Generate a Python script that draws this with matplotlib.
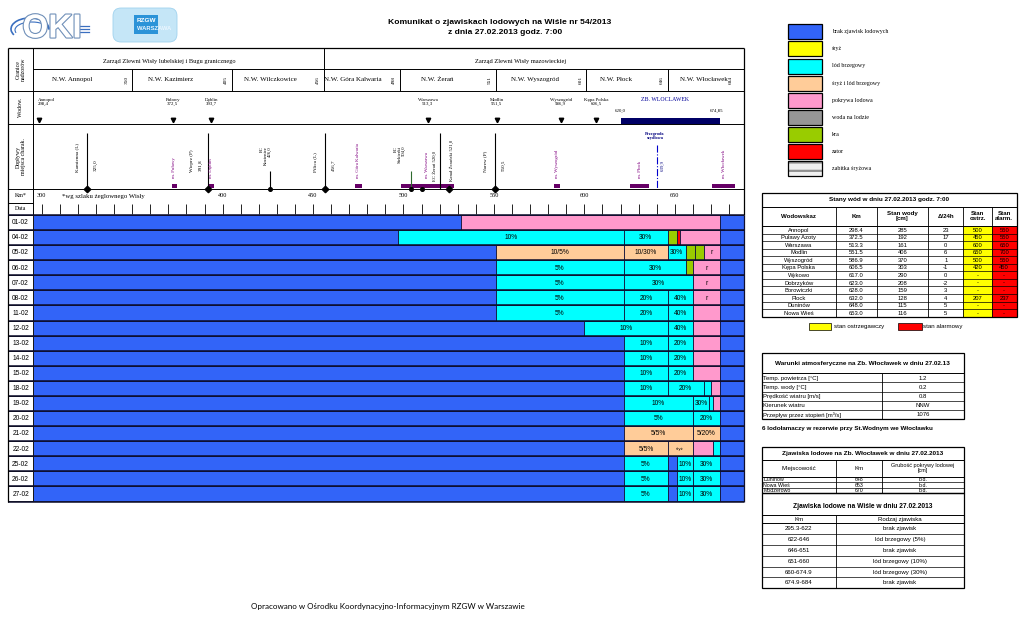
import numpy as np
import matplotlib
matplotlib.use("Agg")
import matplotlib.pyplot as plt
from matplotlib.patches import Rectangle, FancyBboxPatch, Arc
import matplotlib.patheffects as pe

plt.rcParams['font.family'] = ['Liberation Sans', 'DejaVu Sans']
plt.rcParams['hatch.linewidth'] = 1.6
SERIF = ['Liberation Serif', 'DejaVu Serif']

# ---------------- dane ----------------
KM_START = 295.3   # początek odcinka
KM_END = 688.0     # prawy brzeg rysunku

KINDS = ["brak", "sryz", "lod", "sryz_lod", "pokr", "woda", "kra", "zator", "zabitka"]
KIND_LABELS = ["brak zjawisk lodowych", "śryż", "lód brzegowy", "śryż i lód brzegowy",
               "pokrywa lodowa", "woda na lodzie", "kra", "zator", "zabitka śryżowa"]
KIND_COLORS = ["#3264f8", "#ffff00", "#00ffff", "#ffcc99", "#ff99cc",
               "#969696", "#99cc00", "#ff0000", "#d0d0d0"]
COLOR = dict(zip(KINDS, KIND_COLORS))

DATES = ["01-02", "04-02", "05-02", "06-02", "07-02", "08-02", "11-02", "12-02", "13-02",
         "14-02", "15-02", "18-02", "19-02", "20-02", "21-02", "22-02", "25-02", "26-02", "27-02"]

# (od km, do km, rodzaj, opis)
D01_02 = [(295.3, 532, "brak", ""), (532, 674.9, "pokr", ""), (674.9, KM_END, "brak", "")]
D04_02 = [(295.3, 497, "brak", ""), (497, 622, "lod", "10%"), (622, 646, "lod", "30%"),
          (646, 651, "kra", ""), (651, 653, "zator", ""), (653, 674.9, "pokr", ""),
          (674.9, KM_END, "brak", "")]
D05_02 = [(295.3, 551, "brak", ""), (551, 622, "sryz_lod", "10/5%"), (622, 646, "sryz_lod", "10/30%"),
          (646, 656, "lod", "30%"), (656, 661, "kra", ""), (661, 666, "kra", ""),
          (666, 674.9, "pokr", "r"), (674.9, KM_END, "brak", "")]
D06_02 = [(295.3, 551, "brak", ""), (551, 622, "lod", "5%"), (622, 656, "lod", "30%"),
          (656, 660, "kra", ""), (660, 674.9, "pokr", "r"), (674.9, KM_END, "brak", "")]
D07_02 = [(295.3, 551, "brak", ""), (551, 622, "lod", "5%"), (622, 660, "lod", "30%"),
          (660, 674.9, "pokr", "r"), (674.9, KM_END, "brak", "")]
D08_02 = [(295.3, 551, "brak", ""), (551, 622, "lod", "5%"), (622, 646, "lod", "20%"),
          (646, 660, "lod", "40%"), (660, 674.9, "pokr", "r"), (674.9, KM_END, "brak", "")]
D11_02 = [(295.3, 551, "brak", ""), (551, 622, "lod", "5%"), (622, 646, "lod", "20%"),
          (646, 660, "lod", "40%"), (660, 674.9, "pokr", ""), (674.9, KM_END, "brak", "")]
D12_02 = [(295.3, 600, "brak", ""), (600, 646, "lod", "10%"), (646, 660, "lod", "40%"),
          (660, 674.9, "pokr", ""), (674.9, KM_END, "brak", "")]
D13_02 = [(295.3, 622, "brak", ""), (622, 646, "lod", "10%"), (646, 660, "lod", "20%"),
          (660, 674.9, "pokr", ""), (674.9, KM_END, "brak", "")]
D14_02 = list(D13_02)
D15_02 = list(D13_02)
D18_02 = [(295.3, 622, "brak", ""), (622, 646, "lod", "10%"), (646, 666, "lod", "20%"),
          (666, 670, "lod", ""), (670, 674.9, "pokr", ""), (674.9, KM_END, "brak", "")]
D19_02 = [(295.3, 622, "brak", ""), (622, 660, "lod", "10%"), (660, 669, "lod", "30%"),
          (669, 671, "lod", ""), (671, 674.9, "pokr", ""), (674.9, KM_END, "brak", "")]
D20_02 = [(295.3, 622, "brak", ""), (622, 660, "lod", "5%"), (660, 674.9, "lod", "20%"),
          (674.9, KM_END, "brak", "")]
D21_02 = [(295.3, 622, "brak", ""), (622, 660, "sryz_lod", "5/5%"), (660, 674.9, "sryz_lod", "5/20%"),
          (674.9, KM_END, "brak", "")]
D22_02 = [(295.3, 622, "brak", ""), (622, 646, "sryz_lod", "5/5%"), (646, 660, "sryz_lod", "śryż"),
          (660, 671, "pokr", ""), (671, 674.9, "lod", ""), (674.9, KM_END, "brak", "")]
D25_02 = [(295.3, 622, "brak", ""), (622, 646, "lod", "5%"), (646, 651, "brak", ""),
          (651, 660, "lod", "10%"), (660, 674.9, "lod", "30%"), (674.9, KM_END, "brak", "")]
D26_02 = list(D25_02)
D27_02 = list(D25_02)
DAY_SEGMENTS = [D01_02, D04_02, D05_02, D06_02, D07_02, D08_02, D11_02, D12_02, D13_02,
                D14_02, D15_02, D18_02, D19_02, D20_02, D21_02, D22_02, D25_02, D26_02, D27_02]

# nagłówek schematu
ZARZAD_NAMES = ["Zarząd Zlewni Wisły lubelskiej i Bugu granicznego", "Zarząd Zlewni Wisły mazowieckiej"]
ZARZAD_END = [456, 684]
NW_NAMES = ["N.W. Annopol", "N.W. Kazimierz", "N.W. Wilczkowice", "N.W. Góra Kalwaria",
            "N.W. Żerań", "N.W. Wyszogród", "N.W. Płock", "N.W. Włocławek"]
NW_END = [350, 405, 456, 498, 551, 601, 646, 684]

WODOW_NAMES = ["Annopol", "Puławy", "Dęblin", "Warszawa", "Modlin", "Wyszogród", "Kępa Polska"]
WODOW_KM = [298.4, 372.5, 393.7, 513.3, 551.5, 586.9, 606.5]
ZB_FROM, ZB_TO = 620.0, 674.85

TRIB_NAMES = ["Kamienna (L)", "Wieprz (P)", "Pilica (L)", "Narew (P)"]
TRIB_KM = [325.0, 391.8, 456.7, 550.5]
EC_NAMES = ["EC\nKozienice\n426,0", "EC\nSiekierki\n504,0"]
EC_KM = [426.0, 504.0]
ZERAN_EC_KM = 520.0
ZERAN_KANAL_KM = 521.0
PRZEGRODA_KM = 639.9

CITY_NAMES = ["m. Puławy", "m. Dęblin", "m. Góra Kalwaria", "m. Warszawa", "m. Wyszogród",
              "m. Płock", "m. Włocławek"]
CITY_FROM = [372.0, 392.0, 473.0, 498.5, 583.0, 625.3, 670.8]
CITY_TO = [374.6, 395.3, 477.0, 528.0, 586.6, 636.0, 683.3]

KM_LABELS = [300, 400, 450, 500, 550, 600, 650]

# tabela stanów wód
GAUGES = ["Annopol", "Puławy Azoty", "Warszawa", "Modlin", "Wyszogród", "Kępa Polska",
          "Wykowo", "Dobrzyków", "Borowiczki", "Płock", "Duninów", "Nowa Wieś"]
GAUGE_KM = ["298.4", "372.5", "513.3", "551.5", "586.9", "606.5", "617.0", "623.0",
            "628.0", "632.0", "648.0", "653.0"]
LEVEL = [285, 192, 161, 406, 370, 303, 290, 208, 159, 128, 115, 116]
CHANGE = [23, 17, 0, 6, 1, -1, 0, -2, 3, 4, 5, 5]
WARN = ["500", "450", "600", "650", "500", "420", "-", "-", "-", "207", "-", "-"]
ALARM = ["550", "550", "650", "700", "550", "450", "-", "-", "-", "237", "-", "-"]

METEO_NAMES = ["Temp. powietrza [°C]", "Temp. wody [°C]", "Prędkość wiatru [m/s]",
               "Kierunek wiatru", "Przepływ przez stopień [m³/s]"]
METEO_VALUES = ["1.2", "0.2", "0.8", "NNW", "1076"]

ZB_PLACES = ["Duninów", "Nowa Wieś", "Modzerowo"]
ZB_PLACE_KM = ["648", "653", "670"]
ZB_THICK = ["b.d.", "b.d.", "b.d."]

RIVER_KM = ["295.3-622", "622-646", "646-651", "651-660", "660-674.9", "674.9-684"]
RIVER_KIND = ["brak zjawisk", "lód brzegowy (5%)", "brak zjawisk", "lód brzegowy (10%)",
              "lód brzegowy (30%)", "brak zjawisk"]

# ---------------- rysunek ----------------
W, H = 1023, 622
fig = plt.figure(figsize=(W / 100, H / 100), dpi=100)


def px_axes(x0, y0, x1, y1):
    ax = fig.add_axes([x0 / W, 1 - y1 / H, (x1 - x0) / W, (y1 - y0) / H])
    ax.axis('off')
    return ax


def hl(ax, y, x0, x1, lw=0.7, color='k'):
    ax.plot([x0, x1], [y, y], color=color, lw=lw, clip_on=False, solid_capstyle='butt')


def vl(ax, x, y0, y1, lw=0.7, color='k', ls='-'):
    ax.plot([x, x], [y0, y1], color=color, lw=lw, ls=ls, clip_on=False, solid_capstyle='butt')


canvas = px_axes(0, 0, W, H)
canvas.set_xlim(0, W)
canvas.set_ylim(H, 0)

# --- lewy panel: skala km ---
PX_PER_KM = 1.8087
P_LEFT, P_RIGHT = 8, 743.5
K0 = KM_END - (P_RIGHT - P_LEFT) / PX_PER_KM
LAB_X = (K0 + KM_START) / 2

ax_h = px_axes(P_LEFT, 47.7, P_RIGHT, 215)
ax_h.set_xlim(K0, KM_END)
ax_h.set_ylim(215, 47.7)

# linie tabeli nagłówka
hl(ax_h, 47.7, K0, KM_END, 0.9)
hl(ax_h, 69.3, KM_START, KM_END)
for y in [90.7, 124.3, 189, 215]:
    hl(ax_h, y, K0, KM_END)
hl(ax_h, 202.7, K0, KM_START)
vl(ax_h, K0, 47.7, 215, 0.9)
vl(ax_h, KM_START, 47.7, 215)
vl(ax_h, KM_END, 47.7, 215, 0.9)

# etykiety kolumny lewej
ax_h.text(LAB_X, 69.2, "Granice\nnadzorów", rotation=90, ha='center', va='center',
          fontsize=4.2, family=SERIF, linespacing=1.0)
ax_h.text(LAB_X, 107.5, "Wodow.", rotation=90, ha='center', va='center', fontsize=4.2, family=SERIF)
ax_h.text(LAB_X, 156.6, "Dopływy\nmiejsca charak.", rotation=90, ha='center', va='center',
          fontsize=4.2, family=SERIF, linespacing=1.0)
ax_h.text(LAB_X, 195.9, "Km*", ha='center', va='center', fontsize=4.3, family=SERIF)
ax_h.text(LAB_X, 208.9, "Data", ha='center', va='center', fontsize=4.3, family=SERIF)

# zarządy zlewni
start = KM_START
for name, end in zip(ZARZAD_NAMES, ZARZAD_END):
    ax_h.text((start + end) / 2 - 5, 62, name, ha='center', va='center', fontsize=4.6, family=SERIF)
    start = end
vl(ax_h, ZARZAD_END[0], 47.7, 69.3)

# nadzory wodne
NW_DX = [-6, -6, -4, -5, -6, -3, -6, 1]
start = KM_START
for name, end, dx in zip(NW_NAMES, NW_END, NW_DX):
    ax_h.text((start + end) / 2 + dx, 80, name, ha='center', va='center', fontsize=5.0, family=SERIF)
    ax_h.text(end - 3.2, 80, str(end), rotation=90, ha='center', va='center', fontsize=3.9, family=SERIF)
    if end != NW_END[-1]:
        vl(ax_h, end, 69.3, 90.7)
    start = end

# wodowskazy
for i, (name, km) in enumerate(zip(WODOW_NAMES, WODOW_KM)):
    lab = f"{name}\n{km:.1f}".replace(".", ",")
    ax_h.text(km - 0.7 if i == 0 else km, 102, lab, ha='left' if i == 0 else 'center', va='center',
              fontsize=3.5, family=SERIF, linespacing=1.0)
ax_h.plot(WODOW_KM, [120] * len(WODOW_KM), 'kv', ms=3.2, clip_on=False)
ax_h.barh(121, ZB_TO - ZB_FROM, left=ZB_FROM, height=6.3, color='#000066')
ax_h.text(ZB_FROM, 111, f"{ZB_FROM:.1f}".replace(".", ","), ha='center', va='center',
          fontsize=3.5, family=SERIF)
ax_h.text(ZB_TO - 1.5, 111, f"{ZB_TO:.2f}".replace(".", ","), ha='center', va='center',
          fontsize=3.5, family=SERIF)
ax_h.text(644.5, 100, "ZB. WLOCLAWEK", ha='center', va='center', fontsize=4.2,
          family=SERIF, color='#000099')

# dopływy
TRIB_KM_SIDE = [1, -1, 1, 1]
for name, km, side in zip(TRIB_NAMES, TRIB_KM, TRIB_KM_SIDE):
    vl(ax_h, km, 133, 189, 0.8)
    off = -8.5 if side < 0 else -5.5
    ax_h.text(km + off, 172, name, rotation=90, ha='center', va='bottom', fontsize=3.7, family=SERIF)
    ax_h.text(km + (-3.8 if side < 0 else 5.0), 171, f"{km:.1f}".replace(".", ","), rotation=90,
              ha='center', va='bottom', fontsize=3.7, family=SERIF)
ax_h.plot(TRIB_KM, [189] * len(TRIB_KM), 'kD', ms=3.3, clip_on=False)

EC_DX = [-2.2, -6.0]
for name, km, dx in zip(EC_NAMES, EC_KM, EC_DX):
    vl(ax_h, km, 171, 189, 0.8, color='#2e6b2e' if km > 500 else 'k')
    ax_h.text(km + dx, 146, name, rotation=90, ha='center', va='top', fontsize=3.4,
              family=SERIF, linespacing=1.0, multialignment='right')
ax_h.plot(EC_KM, [189] * len(EC_KM), 'ko', ms=2.6, clip_on=False)

vl(ax_h, ZERAN_EC_KM, 133, 189, 0.8)
ax_h.text(ZERAN_EC_KM - 3.0, 181, "EC Żerań 520,0", rotation=90, ha='center', va='bottom',
          fontsize=3.4, family=SERIF)
ax_h.text(ZERAN_KANAL_KM + 5.6, 181, "Kanał Żerański 521,0", rotation=90, ha='center', va='bottom',
          fontsize=3.4, family=SERIF)

# miasta
for name, a, b in zip(CITY_NAMES, CITY_FROM, CITY_TO):
    ax_h.barh(186.2, b - a, left=a, height=4, color='#660066')
    ax_h.text((a + b) / 2, 178, name, rotation=90, ha='center', va='bottom', fontsize=3.5,
              family=SERIF, color='#800080')
ax_h.plot([ZERAN_KANAL_KM + 4.3], [189], 'kD', ms=3.3, clip_on=False)
ax_h.plot([ZERAN_EC_KM - 9.5], [189], 'ko', ms=2.6, clip_on=False)

# przegroda
vl(ax_h, PRZEGRODA_KM, 145, 189, 0.8, color='#0000cc', ls='-.')
ax_h.text(PRZEGRODA_KM - 0.8, 136, "Przegroda\nszydłowa", ha='center', va='center', fontsize=3.2,
          family=SERIF, color='#000080', fontweight='bold', linespacing=1.0)
ax_h.text(PRZEGRODA_KM + 3.3, 171, f"{PRZEGRODA_KM:.1f}".replace(".", ","), rotation=90, ha='center',
          va='bottom', fontsize=3.5, family=SERIF, color='#000080')

# kilometraż
for km in KM_LABELS:
    ax_h.text(km, 195.5, str(km), ha='center', va='center', fontsize=4.5, family=SERIF)
ax_h.text(311, 196.8, "*wg szlaku żeglownego Wisły", ha='left', va='center', fontsize=4.9, family=SERIF)
for km in np.arange(300, 690, 10):
    vl(ax_h, km, 204, 214, 0.6)

# --- siatka zjawisk ---
ax_g = px_axes(P_LEFT, 215, P_RIGHT, 501.5)
ax_g.set_xlim(K0, KM_END)
ax_g.set_ylim(len(DATES), 0)
for i, segs in enumerate(DAY_SEGMENTS):
    for a, b, kind, lab in segs:
        ax_g.barh(i + 0.5, b - a, left=a, height=1, color=COLOR[kind],
                  edgecolor='#12123a', linewidth=0.6)
        if lab:
            fs = 3.0 if lab == "śryż" else 4.8
            ax_g.text((a + b) / 2, i + 0.52, lab, ha='center', va='center', fontsize=fs)
    ax_g.barh(i + 0.5, KM_START - K0, left=K0, height=1, color='white', edgecolor='k', linewidth=0.6)
    ax_g.text(LAB_X, i + 0.52, DATES[i], ha='center', va='center', fontsize=4.8)
for i in range(len(DATES) + 1):
    hl(ax_g, i, K0, KM_END, 1.1, color='#0c0c2a')
vl(ax_g, K0, 0, len(DATES), 0.9)
vl(ax_g, KM_END, 0, len(DATES), 0.9, color='#101030')

# --- tytuł, logo, stopka ---
canvas.text(500, 22, "Komunikat o zjawiskach lodowych na Wiśle nr 54/2013", ha='center', va='center',
            fontsize=6.1, fontweight='bold')
canvas.text(505, 33, "z dnia 27.02.2013 godz. 7:00", ha='center', va='center',
            fontsize=6.1, fontweight='bold')
canvas.text(388, 607, "Opracowano w Ośrodku Koordynacyjno-Informacyjnym RZGW w Warszawie",
            ha='center', va='center', fontsize=5.8, family=['Lato', 'DejaVu Sans'])

canvas.add_patch(Arc((30, 29), 38, 22, theta1=160, theta2=360, color='#3a6fc0', lw=1.2))
canvas.add_patch(Arc((32, 30), 34, 16, theta1=170, theta2=360, color='#3a6fc0', lw=0.8))
canvas.text(52, 29, "OKI", ha='center', va='center', fontsize=24, fontweight='bold', color='white',
            path_effects=[pe.withStroke(linewidth=1.6, foreground='#6f8fb8')])
for y in [26, 29, 32]:
    canvas.plot([79, 89], [y, y], color='#3a6fc0', lw=0.9)
canvas.add_patch(FancyBboxPatch((114, 9), 62, 32, boxstyle='round,pad=1,rounding_size=8',
                                fc='#c5e6f7', ec='#9fd2ee', lw=0.6))
canvas.add_patch(Rectangle((134, 15), 24, 19, fc='#2b93d8', ec='none'))
canvas.text(137, 21, "RZGW", ha='left', va='center', fontsize=4.6, fontweight='bold', color='white')
canvas.text(137, 29, "WARSZAWA", ha='left', va='center', fontsize=4.2, fontweight='bold', color='#eaf6ff')

# --- legenda ---
for k, (kind, lab) in enumerate(zip(KINDS, KIND_LABELS)):
    top = 24.3 + 17.1 * k
    if kind == "zabitka":
        canvas.add_patch(Rectangle((788.3, top), 34, 15, fc='#f0f0f0', ec='#909090', hatch='--', lw=0))
        canvas.add_patch(Rectangle((788.3, top), 34, 15, fc='none', ec='k', lw=0.9))
    else:
        canvas.add_patch(Rectangle((788.3, top), 34, 15, fc=COLOR[kind], ec='k', lw=0.9))
    canvas.text(831.7, top + 7.5, lab, ha='left', va='center', fontsize=4.3, family=SERIF)


def box(x0, y0, x1, y1, lw=0.8, fc='none'):
    canvas.add_patch(Rectangle((x0, y0), x1 - x0, y1 - y0, fc=fc, ec='k', lw=lw))


# --- tabela stanów wód ---
T1_X = [761.7, 836, 876.7, 928.3, 963.3, 991.7, 1016.7]
T1_TOP, T1_HEAD, T1_DATA, T1_BOT = 193.3, 206.7, 226, 316.7
rh = (T1_BOT - T1_DATA) / len(GAUGES)
for r in range(len(GAUGES)):
    y0 = T1_DATA + r * rh
    canvas.add_patch(Rectangle((T1_X[4], y0), T1_X[5] - T1_X[4], rh, fc='#ffff00', ec='none'))
    canvas.add_patch(Rectangle((T1_X[5], y0), T1_X[6] - T1_X[5], rh, fc='#ff0000', ec='none'))
box(T1_X[0], T1_TOP, T1_X[-1], T1_BOT, 0.9)
hl(canvas, T1_HEAD, T1_X[0], T1_X[-1])
hl(canvas, T1_DATA, T1_X[0], T1_X[-1])
for r in range(1, len(GAUGES)):
    hl(canvas, T1_DATA + r * rh, T1_X[0], T1_X[-1], 0.5)
for x in T1_X[1:-1]:
    vl(canvas, x, T1_HEAD, T1_BOT, 0.6)
canvas.text((T1_X[0] + T1_X[-1]) / 2, 200, "Stany wód w dniu 27.02.2013 godz. 7:00", ha='center',
            va='center', fontsize=4.6, fontweight='bold')
heads = ["Wodowskaz", "Km", "Stan wody\n[cm]", "Δ/24h", "Stan\nostrz.", "Stan\nalarm."]
for c, txt in enumerate(heads):
    canvas.text((T1_X[c] + T1_X[c + 1]) / 2, (T1_HEAD + T1_DATA) / 2, txt, ha='center', va='center',
                fontsize=4.4, fontweight='bold', linespacing=1.05)
for r in range(len(GAUGES)):
    yc = T1_DATA + (r + 0.55) * rh
    vals = [GAUGES[r], GAUGE_KM[r], str(LEVEL[r]), str(CHANGE[r]), WARN[r], ALARM[r]]
    for c, txt in enumerate(vals):
        canvas.text((T1_X[c] + T1_X[c + 1]) / 2, yc, txt, ha='center', va='center', fontsize=4.2)
canvas.add_patch(Rectangle((809.3, 323.3), 21.7, 6.5, fc='#ffff00', ec='k', lw=0.5))
canvas.text(834, 326.7, "stan ostrzegawczy", ha='left', va='center', fontsize=4.4)
canvas.add_patch(Rectangle((898.3, 323.3), 23.4, 6.5, fc='#ff0000', ec='k', lw=0.5))
canvas.text(923.3, 326.7, "stan alarmowy", ha='left', va='center', fontsize=4.4)

# --- warunki atmosferyczne ---
T2_X = [761.7, 881.7, 964]
T2_TOP, T2_DATA, T2_BOT = 353.3, 373.3, 419
rh = (T2_BOT - T2_DATA) / len(METEO_NAMES)
box(T2_X[0], T2_TOP, T2_X[-1], T2_BOT, 0.9)
hl(canvas, T2_DATA, T2_X[0], T2_X[-1])
for r in range(1, len(METEO_NAMES)):
    hl(canvas, T2_DATA + r * rh, T2_X[0], T2_X[-1], 0.5)
vl(canvas, T2_X[1], T2_DATA, T2_BOT, 0.6)
canvas.text((T2_X[0] + T2_X[-1]) / 2, 364, "Warunki atmosferyczne na Zb. Włocławek w dniu 27.02.13",
            ha='center', va='center', fontsize=4.6, fontweight='bold')
for r, (n, v) in enumerate(zip(METEO_NAMES, METEO_VALUES)):
    yc = T2_DATA + (r + 0.55) * rh
    canvas.text(T2_X[0] + 1.5, yc, n, ha='left', va='center', fontsize=4.3)
    canvas.text((T2_X[1] + T2_X[2]) / 2, yc, v, ha='center', va='center', fontsize=4.3)
canvas.text(762, 428.3, "6 lodołamaczy w rezerwie przy St.Wodnym we Włocławku", ha='left',
            va='center', fontsize=4.5, fontweight='bold')

# --- zjawiska na zbiorniku ---
T3_X = [761.7, 836, 881.7, 964]
T3_TOP, T3_HEAD, T3_DATA, T3_BOT = 447.3, 460, 476.7, 493.3
rh = (T3_BOT - T3_DATA) / len(ZB_PLACES)
box(T3_X[0], T3_TOP, T3_X[-1], T3_BOT, 0.9)
hl(canvas, T3_HEAD, T3_X[0], T3_X[-1])
hl(canvas, T3_DATA, T3_X[0], T3_X[-1])
for r in range(1, len(ZB_PLACES)):
    hl(canvas, T3_DATA + r * rh, T3_X[0], T3_X[-1], 0.5)
for x in T3_X[1:-1]:
    vl(canvas, x, T3_HEAD, T3_BOT, 0.6)
canvas.text((T3_X[0] + T3_X[-1]) / 2, 453.5, "Zjawiska lodowe na Zb. Włocławek w dniu 27.02.2013",
            ha='center', va='center', fontsize=4.6, fontweight='bold')
for c, txt in enumerate(["Miejscowość", "Km", "Grubość pokrywy lodowej\n[cm]"]):
    canvas.text((T3_X[c] + T3_X[c + 1]) / 2, (T3_HEAD + T3_DATA) / 2, txt, ha='center', va='center',
                fontsize=4.0 if c == 2 else 4.4, linespacing=1.0)
for r in range(len(ZB_PLACES)):
    yc = T3_DATA + (r + 0.55) * rh
    canvas.text(T3_X[0] + 1.5, yc, ZB_PLACES[r], ha='left', va='center', fontsize=3.8)
    canvas.text((T3_X[1] + T3_X[2]) / 2, yc, ZB_PLACE_KM[r], ha='center', va='center', fontsize=3.8)
    canvas.text((T3_X[2] + T3_X[3]) / 2, yc, ZB_THICK[r], ha='center', va='center', fontsize=3.8)

# --- zjawiska na Wiśle ---
T4_X = [761.7, 836, 964]
T4_TOP, T4_HEAD, T4_DATA, T4_BOT = 493.3, 515, 523.3, 588.3
rh = (T4_BOT - T4_DATA) / len(RIVER_KM)
box(T4_X[0], T4_TOP, T4_X[-1], T4_BOT, 0.9)
hl(canvas, T4_HEAD, T4_X[0], T4_X[-1])
hl(canvas, T4_DATA, T4_X[0], T4_X[-1])
for r in range(1, len(RIVER_KM)):
    hl(canvas, T4_DATA + r * rh, T4_X[0], T4_X[-1], 0.5)
vl(canvas, T4_X[1], T4_HEAD, T4_BOT, 0.6)
canvas.text((T4_X[0] + T4_X[-1]) / 2, 507, "Zjawiska lodowe na Wiśle w dniu 27.02.2013",
            ha='center', va='center', fontsize=4.8, fontweight='bold')
canvas.text((T4_X[0] + T4_X[1]) / 2, (T4_HEAD + T4_DATA) / 2, "Km", ha='center', va='center', fontsize=4.4)
canvas.text((T4_X[1] + T4_X[2]) / 2, (T4_HEAD + T4_DATA) / 2, "Rodzaj zjawiska", ha='center',
            va='center', fontsize=4.4)
for r, (k, z) in enumerate(zip(RIVER_KM, RIVER_KIND)):
    yc = T4_DATA + (r + 0.5) * rh
    canvas.text((T4_X[0] + T4_X[1]) / 2, yc, k, ha='center', va='center', fontsize=4.4)
    canvas.text((T4_X[1] + T4_X[2]) / 2, yc, z, ha='center', va='center', fontsize=4.4)

fig.savefig("out.png", dpi=100)
